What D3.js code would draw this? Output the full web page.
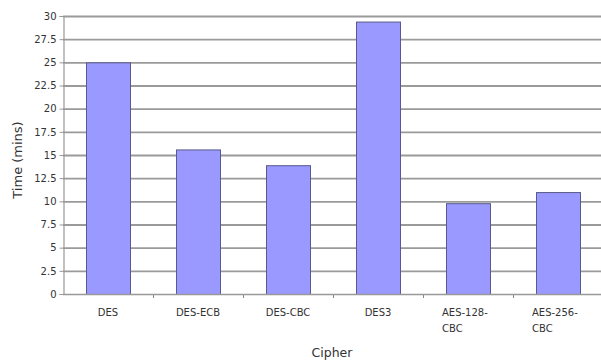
<!DOCTYPE html>
<html>
<head>
<meta charset="utf-8">
<script src="https://cdn.jsdelivr.net/npm/d3@7"></script>
<style>
  html, body { margin: 0; padding: 0; background: #fff; }
  svg { display: block; }
  text { font-family: "DejaVu Sans", sans-serif; fill: #333; }
</style>
</head>
<body>
<svg id="chart" width="601" height="360"></svg>
<script>
// Encryption time per cipher
const categories = ["DES", "DES-ECB", "DES-CBC", "DES3", "AES-128-CBC", "AES-256-CBC"];
const labelLines = [["DES"], ["DES-ECB"], ["DES-CBC"], ["DES3"], ["AES-128-", "CBC"], ["AES-256-", "CBC"]];
const times = [25, 15.6, 13.9, 29.4, 9.8, 11.0];
const yTicks = [0, 2.5, 5, 7.5, 10, 12.5, 15, 17.5, 20, 22.5, 25, 27.5, 30];

const svg = d3.select("#chart");
const plotLeft = 63, plotRight = 603, plotTop = 16, plotBottom = 294;

const x = d3.scaleBand().domain(categories).range([plotLeft, plotRight]).padding(0);
const y = d3.scaleLinear().domain([0, 30]).range([plotBottom, plotTop]);
const barW = 44;

// horizontal gridlines
svg.append("g").selectAll("line").data(yTicks.filter(d => d > 0)).join("line")
  .attr("x1", plotLeft).attr("x2", 601)
  .attr("y1", d => y(d) + 0.5).attr("y2", d => y(d) + 0.5)
  .attr("stroke", "#9a9a9a").attr("stroke-width", 1.8);

// bars
svg.append("g").selectAll("rect").data(categories).join("rect")
  .attr("x", (d) => x(d) + x.bandwidth() / 2 - barW / 2 + 0.5)
  .attr("y", (d, i) => y(times[i]) + 0.5)
  .attr("width", barW)
  .attr("height", (d, i) => y(0) - y(times[i]))
  .attr("fill", "#9999ff")
  .attr("stroke", "#5a5a8a")
  .attr("stroke-width", 1);

// y axis
const yAxis = d3.axisLeft(y).tickValues(yTicks).tickSize(4).tickPadding(3)
  .tickFormat(d => String(d));
const gy = svg.append("g").attr("transform", `translate(${plotLeft + 0.5},0)`).call(yAxis);
gy.select(".domain").attr("stroke", "#999").attr("stroke-width", 1.2);
gy.selectAll(".tick line").attr("stroke", "#999");
gy.selectAll(".tick text").attr("font-size", 10).attr("fill", "#444")
  .style("font-family", "'DejaVu Sans', sans-serif");

// x axis baseline and separator ticks
const gx = svg.append("g");
gx.append("line").attr("x1", plotLeft).attr("x2", 601)
  .attr("y1", plotBottom + 0.5).attr("y2", plotBottom + 0.5)
  .attr("stroke", "#999").attr("stroke-width", 1.6);
gx.selectAll("line.sep").data(categories.slice(1)).join("line").attr("class", "sep")
  .attr("x1", d => x(d) + 0.5).attr("x2", d => x(d) + 0.5)
  .attr("y1", plotBottom + 1).attr("y2", plotBottom + 4)
  .attr("stroke", "#888");

// category labels
const lab = svg.append("g").selectAll("text").data(categories).join("text")
  .attr("font-size", 10).attr("fill", "#444");
lab.each(function (d, i) {
  const lines = labelLines[i];
  const t = d3.select(this);
  const cx = x(d) + x.bandwidth() / 2;
  if (lines.length === 1) {
    t.attr("text-anchor", "middle").attr("x", cx).attr("y", 316).text(lines[0]);
  } else {
    t.attr("text-anchor", "start");
    lines.forEach((ln, j) => {
      t.append("tspan").attr("x", cx - 26).attr("y", 316 + j * 16).text(ln);
    });
  }
});

// axis titles
svg.append("text").attr("x", 332).attr("y", 357).attr("text-anchor", "middle")
  .attr("font-size", 12.5).attr("fill", "#333").text("Cipher");
svg.append("text").attr("transform", `translate(22,160) rotate(-90)`)
  .attr("text-anchor", "middle").attr("font-size", 13).attr("fill", "#333")
  .text("Time (mins)");
</script>
</body>
</html>
